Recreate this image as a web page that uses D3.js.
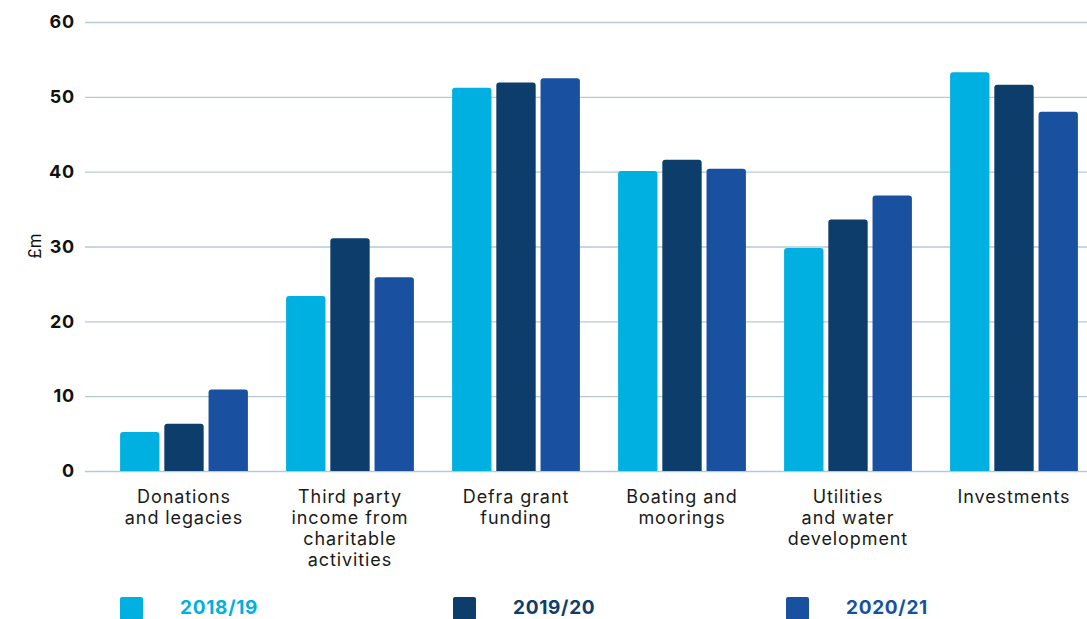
<!DOCTYPE html>
<html>
<head>
<meta charset="utf-8">
<script src="https://cdn.jsdelivr.net/npm/d3@7"></script>
<style>
  body { margin: 0; background: #fff; }
  svg text { font-family: Inter, "Noto Sans", sans-serif; }
</style>
</head>
<body>
<div id="chart"></div>
<script>
var categories = [
  ["Donations", "and legacies"],
  ["Third party", "income from", "charitable", "activities"],
  ["Defra grant", "funding"],
  ["Boating and", "moorings"],
  ["Utilities", "and water", "development"],
  ["Investments"]
];
var series = ["2018/19", "2019/20", "2020/21"];
var values2018 = [5.2, 23.4, 51.2, 40.1, 29.8, 53.3];
var values2019 = [6.3, 31.1, 51.9, 41.6, 33.6, 51.6];
var values2020 = [10.9, 25.9, 52.5, 40.4, 36.8, 48.0];
var yTicks = [0, 10, 20, 30, 40, 50, 60];
var colors = ["#00b0e0", "#0d3d6b", "#1a50a0"];

var allValues = [values2018, values2019, values2020];

var width = 1087, height = 619;

var svg = d3.select("#chart")
  .append("svg")
    .attr("width", width)
    .attr("height", height);

// scales
var x = d3.scaleBand()
  .domain(d3.range(categories.length))
  .range([101, 1097])
  .paddingInner(0.23)
  .paddingOuter(0.115);

var xSub = d3.scaleBand()
  .domain(d3.range(series.length))
  .range([0, x.bandwidth()])
  .paddingInner(0.11);

var y = d3.scaleLinear()
  .domain([0, 60])
  .range([471, 22]);

// gridlines
var yAxis = svg.append("g")
  .attr("transform", "translate(85,0)")
  .call(d3.axisLeft(y).tickValues(yTicks).tickSize(-1002).tickPadding(10));
yAxis.select(".domain").remove();
yAxis.selectAll(".tick line")
  .attr("stroke", "#b9c9d3")
  .attr("stroke-width", 1.3);
yAxis.selectAll(".tick text")
  .attr("fill", "#111")
  .attr("font-size", 18)
  .attr("letter-spacing", 0.8)
  .attr("font-weight", "bold");

// axis title
svg.append("text")
  .attr("transform", "translate(41,246) rotate(-90)")
  .attr("text-anchor", "middle")
  .attr("font-size", 17)
  .attr("fill", "#111")
  .text("£m");

// bars
function barPath(x0, y0, w, h, r) {
  r = Math.min(r, h);
  return "M" + x0 + "," + (y0 + h) +
    "V" + (y0 + r) +
    "Q" + x0 + "," + y0 + " " + (x0 + r) + "," + y0 +
    "H" + (x0 + w - r) +
    "Q" + (x0 + w) + "," + y0 + " " + (x0 + w) + "," + (y0 + r) +
    "V" + (y0 + h) + "Z";
}

var groups = svg.append("g").selectAll("g")
  .data(categories)
  .enter()
  .append("g")
    .attr("transform", function(d, i) { return "translate(" + x(i) + ",0)"; });

groups.selectAll("path")
  .data(function(d, i) { return allValues.map(function(v, s) { return {s: s, v: v[i]}; }); })
  .enter()
  .append("path")
    .attr("d", function(d) {
      return barPath(xSub(d.s), y(d.v), xSub.bandwidth(), y(0) - y(d.v), 3);
    })
    .attr("fill", function(d) { return colors[d.s]; });

// category labels
groups.append("text")
  .attr("text-anchor", "middle")
  .attr("font-size", 18)
  .attr("letter-spacing", 0.9)
  .attr("fill", "#1a1a1a")
  .selectAll("tspan")
  .data(function(d) { return d; })
  .enter()
  .append("tspan")
    .attr("x", x.bandwidth() / 2)
    .attr("y", function(d, j) { return 503 + j * 21; })
    .text(function(d) { return d; });

// legend
var legend = svg.append("g").selectAll("g")
  .data(series)
  .enter()
  .append("g")
    .attr("transform", function(d, i) { return "translate(" + (120 + i * 333) + ",597)"; });

legend.append("rect")
  .attr("width", 23)
  .attr("height", 23)
  .attr("rx", 2)
  .attr("fill", function(d, i) { return colors[i]; });

legend.append("text")
  .attr("x", 60)
  .attr("y", 17)
  .attr("font-size", 19)
  .attr("letter-spacing", 0.7)
  .attr("font-weight", "bold")
  .attr("fill", function(d, i) { return colors[i]; })
  .text(function(d) { return d; });
</script>
</body>
</html>
